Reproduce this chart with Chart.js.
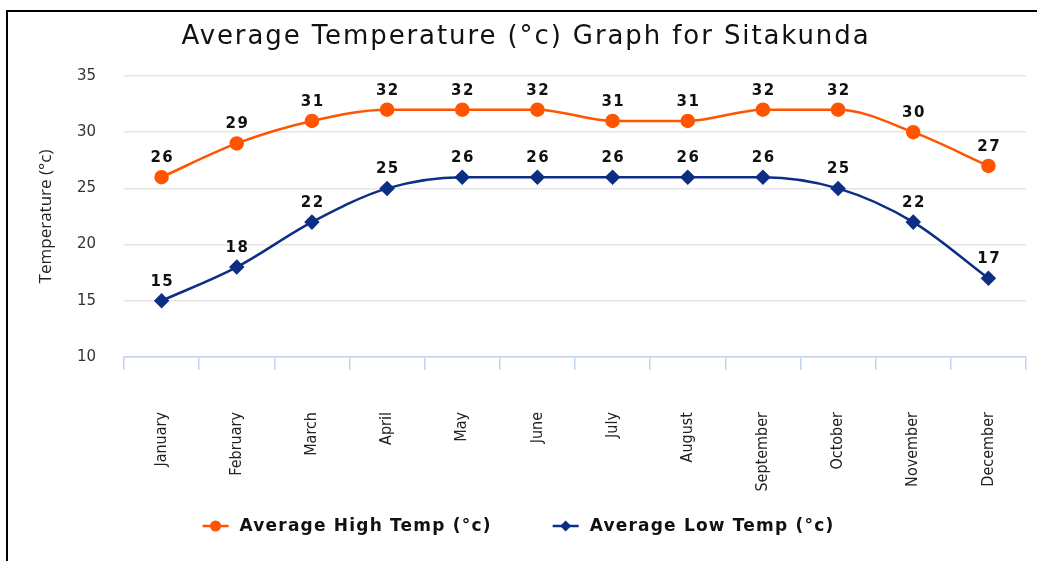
<!DOCTYPE html>
<html>
<head>
<meta charset="utf-8">
<script src="https://cdn.jsdelivr.net/npm/chart.js@4/dist/chart.umd.min.js"></script>
<style>
  html, body { margin: 0; padding: 0; background: #fff; }
  #wrap { position: relative; width: 1037px; height: 561px; }
  #frame { position: absolute; left: 6px; top: 10px; width: 1031px; height: 551px;
           border-left: 2px solid #000; border-top: 2px solid #000; box-sizing: border-box; pointer-events: none; }
</style>
</head>
<body>
<div id="wrap">
  <canvas id="c" width="1037" height="561"></canvas>
  <div id="frame"></div>
</div>
<script>
const titleText = 'Average Temperature (°c) Graph for Sitakunda';
const yAxisTitle = 'Temperature (°c)';
const months = ['January','February','March','April','May','June','July','August','September','October','November','December'];
const highName = 'Average High Temp (°c)';
const lowName = 'Average Low Temp (°c)';
const highTemps = [26, 29, 31, 32, 32, 32, 31, 31, 32, 32, 30, 27];
const lowTemps  = [15, 18, 22, 25, 26, 26, 26, 26, 26, 25, 22, 17];
const yMin = 10, yMax = 35, yStep = 5;

const ORANGE = '#ff5500';
const NAVY = '#0c2f84';
const SANS = '"DejaVu Sans", Verdana, sans-serif';

function drawMarker(g, style, x, y, color) {
  g.fillStyle = color;
  g.beginPath();
  if (style === 'circle') { g.arc(x, y, 5.5, 0, Math.PI * 2); }
  else { g.moveTo(x, y - 5.5); g.lineTo(x + 5.5, y); g.lineTo(x, y + 5.5); g.lineTo(x - 5.5, y); g.closePath(); }
  g.fill();
}

const extras = {
  id: 'extras',
  afterDatasetsDraw(chart) {
    const ctx = chart.ctx;
    ctx.save();
    ctx.font = 'bold 15px ' + SANS;
    ctx.letterSpacing = '1.5px';
    ctx.fillStyle = '#111';
    ctx.textAlign = 'center';
    ctx.textBaseline = 'middle';
    chart.data.datasets.forEach((ds, i) => {
      const meta = chart.getDatasetMeta(i);
      meta.data.forEach((pt, j) => {
        ctx.fillText(String(ds.data[j]), pt.x + 0.75, pt.y - 19);
      });
    });
    ctx.restore();
  },
  afterDraw(chart) {
    const ctx = chart.ctx;
    ctx.save();
    // title
    ctx.font = '26px ' + SANS;
    ctx.letterSpacing = '1.9px';
    ctx.fillStyle = '#111';
    ctx.textAlign = 'center';
    ctx.textBaseline = 'middle';
    ctx.fillText(titleText, 526, 37);
    // legend
    ctx.font = 'bold 17px ' + SANS;
    ctx.letterSpacing = '1.2px';
    ctx.textAlign = 'left';
    const items = chart.data.datasets.map((ds, i) => ({
      text: ds.label, color: ds.borderColor, style: i === 0 ? 'circle' : 'diamond',
      w: ctx.measureText(ds.label).width
    }));
    const iconW = 26, iconGap = 11, itemGap = 61;
    let total = 0;
    items.forEach((it, i) => { total += iconW + iconGap + it.w + (i < items.length - 1 ? itemGap : 0); });
    let x = 518.5 - total / 2;
    const y = 526;
    items.forEach((it) => {
      ctx.strokeStyle = it.color; ctx.lineWidth = 2.5;
      ctx.beginPath(); ctx.moveTo(x, y); ctx.lineTo(x + iconW, y); ctx.stroke();
      drawMarker(ctx, it.style, x + iconW / 2, y, it.color);
      ctx.fillStyle = '#111';
      ctx.fillText(it.text, x + iconW + iconGap, y + 1);
      x += iconW + iconGap + it.w + itemGap;
    });
    ctx.restore();
  }
};

new Chart(document.getElementById('c'), {
  type: 'line',
  data: {
    labels: months,
    datasets: [
      { label: highName, data: highTemps, borderColor: ORANGE, backgroundColor: ORANGE,
        borderWidth: 2.5, pointStyle: 'circle', pointRadius: 6, pointHoverRadius: 6,
        cubicInterpolationMode: 'monotone', fill: false },
      { label: lowName, data: lowTemps, borderColor: NAVY, backgroundColor: NAVY,
        borderWidth: 2.5, pointStyle: 'rectRot', pointRadius: 6, pointHoverRadius: 6,
        cubicInterpolationMode: 'monotone', fill: false }
    ]
  },
  options: {
    responsive: false,
    animation: false,
    devicePixelRatio: 1,
    layout: { padding: { left: 0, right: 11, top: 76, bottom: 64 } },
    plugins: {
      title: { display: false },
      legend: { display: false },
      tooltip: { enabled: false }
    },
    scales: {
      x: {
        offset: true,
        grid: { display: true, drawOnChartArea: false, offset: true, tickLength: 13, color: '#c4d4ec', lineWidth: 1.5 },
        border: { display: true, color: '#c4d4ec', width: 1.5 },
        ticks: { minRotation: 90, maxRotation: 90, padding: 42, color: '#222', autoSkip: false,
          font: { family: '"Liberation Sans Narrow", "DejaVu Sans Condensed", "Open Sans", sans-serif', size: 16 } },
        afterFit(scale) { scale.height = 140; scale.paddingLeft = 0; scale.paddingRight = 0; }
      },
      y: {
        min: yMin, max: yMax,
        ticks: { stepSize: yStep, padding: 28, color: '#333',
          font: { family: SANS, size: 15 } },
        grid: { color: '#e6e6e6', drawTicks: false, lineWidth: 1.5 },
        border: { display: false },
        title: { display: true, text: yAxisTitle, color: '#222', padding: { top: 36, bottom: 0 },
          font: { family: '"Open Sans", "Liberation Sans", sans-serif', size: 17 } },
        afterFit(scale) { scale.width = 124; }
      }
    }
  },
  plugins: [extras]
});
</script>
</body>
</html>
